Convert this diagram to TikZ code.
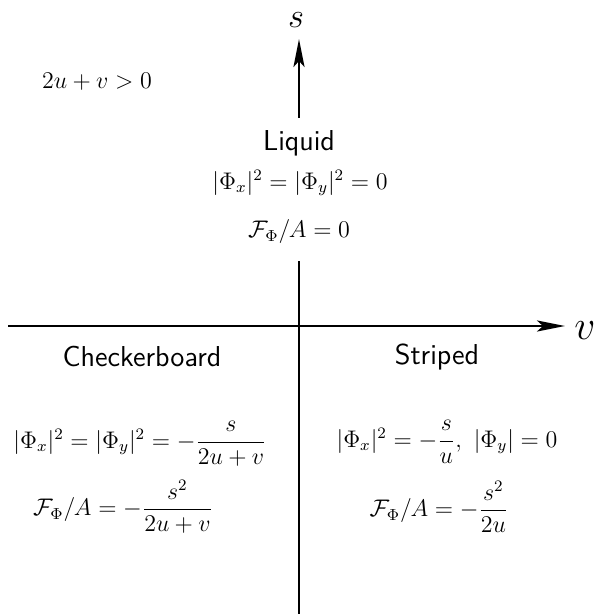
\documentclass[tikz,border=0pt]{standalone}
\usepackage{amsmath}
\usetikzlibrary{arrows.meta}
\begin{document}
\begin{tikzpicture}[x=0.5pt,y=-0.5pt,
  axis/.style={line width=1.2pt},
  tip/.style={-{Stealth[length=14pt,width=5.5pt,inset=3pt]}},
  phase/.style={font=\fontsize{14.4}{17}\selectfont\sffamily,inner sep=0pt},
  eqn/.style={font=\fontsize{12}{14}\selectfont,inner sep=0pt},
  slabel/.style={font=\fontsize{17}{20}\selectfont,inner sep=0pt},
  vlabel/.style={font=\fontsize{20}{24}\selectfont,inner sep=0pt}]
\useasboundingbox (0,0) rectangle (594,614);
\coordinate (bot) at (299,614);
\coordinate (stip) at (299,39);
\coordinate (vleft) at (8,326);
\coordinate (vtip) at (565,326);
\node[slabel] (slab) at (296,20) {$s$};
\node[vlabel] (vlab) at (585,331) {$v$};
\node[eqn] (cond) at (97,82) {$2u+v>0$};
\node[phase] (liq) at (299,143) {Liquid};
\node[eqn] (leq1) at (300,183) {$|\Phi_x|^2=|\Phi_y|^2=0$};
\node[eqn] (leq2) at (299,232) {$\mathcal{F}_\Phi/A=0$};
\coordinate (gaptop) at (299,118);
\coordinate (gapbot) at (299,261);
\node[phase] (chk) at (142,357) {Checkerboard};
\node[eqn] (ceq1) at (140,444) {$|\Phi_x|^2=|\Phi_y|^2=-\dfrac{s}{2u+v}$};
\node[eqn] (ceq2) at (123,507) {$\mathcal{F}_\Phi/A=-\dfrac{s^2}{2u+v}$};
\node[phase] (str) at (437,357) {Striped};
\node[eqn] (seq1) at (447,442) {$|\Phi_x|^2=-\dfrac{s}{u},\ |\Phi_y|=0$};
\node[eqn] (seq2) at (439,507) {$\mathcal{F}_\Phi/A=-\dfrac{s^2}{2u}$};
\draw[axis,tip] (vleft) -- (vtip);
\draw[axis] (bot) -- (gapbot);
\draw[axis,tip] (gaptop) -- (stip);
\end{tikzpicture}
\end{document}
